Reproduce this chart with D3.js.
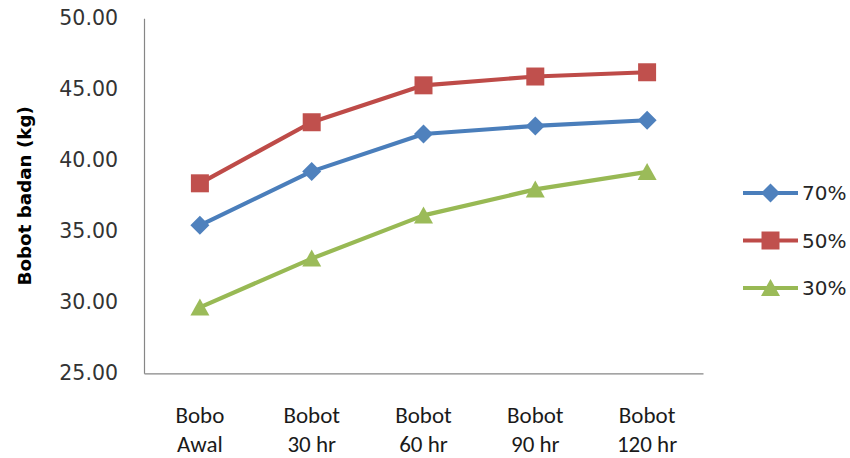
<!DOCTYPE html>
<html>
<head>
<meta charset="utf-8">
<script src="https://cdn.jsdelivr.net/npm/d3@7/dist/d3.min.js"></script>
<style>
  html, body { margin: 0; padding: 0; background: #fff; }
  svg { display: block; }
</style>
</head>
<body>
<svg id="chart" width="850" height="458"></svg>
<script>
// ---- data ----
const categories = ["Bobo Awal", "Bobot 30 hr", "Bobot 60 hr", "Bobot 90 hr", "Bobot 120 hr"];
const categoryLines = [["Bobo", "Awal"], ["Bobot", "30 hr"], ["Bobot", "60 hr"], ["Bobot", "90 hr"], ["Bobot", "120 hr"]];
const seriesNames = ["70%", "50%", "30%"];
const values70 = [35.42, 39.22, 41.85, 42.42, 42.82];
const values50 = [38.38, 42.68, 45.28, 45.9, 46.2];
const values30 = [29.64, 33.08, 36.12, 37.95, 39.18];
const yTicks = [25, 30, 35, 40, 45, 50];
const yTitle = "Bobot badan (kg)";

const series = [
  { name: seriesNames[0], values: values70, line: "#4A7EBB", fill: "#4F81BD", shape: "diamond" },
  { name: seriesNames[1], values: values50, line: "#BE4B48", fill: "#C0504D", shape: "square" },
  { name: seriesNames[2], values: values30, line: "#98B954", fill: "#9BBB59", shape: "triangle" }
];

// ---- layout ----
const plot = { left: 144, right: 703, top: 18.3, bottom: 373.3 };
const svg = d3.select("#chart");

const x = d3.scaleBand().domain(categories).range([plot.left, plot.right]);
const y = d3.scaleLinear().domain([25, 50]).range([plot.bottom, plot.top]);
const cx = c => x(c) + x.bandwidth() / 2;

// axes
const yAxis = d3.axisLeft(y).tickValues(yTicks).tickFormat(d3.format(".2f")).tickSize(0).tickPadding(26);
const gy = svg.append("g").attr("transform", `translate(${plot.left},0)`).call(yAxis);
gy.select(".domain").attr("stroke", "#868686").attr("stroke-width", 1.2);
gy.selectAll("text")
  .attr("font-family", "'DejaVu Sans', Verdana, sans-serif")
  .attr("font-size", 20.5)
  .attr("fill", "#333333");

const xAxis = d3.axisBottom(x).tickSize(0).tickFormat(() => "");
const gx = svg.append("g").attr("transform", `translate(0,${plot.bottom})`).call(xAxis);
gx.select(".domain").attr("stroke", "#868686").attr("stroke-width", 1.2);

// x labels (two lines)
const xl = svg.append("g")
  .attr("font-family", "Carlito, 'Liberation Sans Narrow', 'Liberation Sans', sans-serif")
  .attr("font-size", 23)
  .attr("fill", "#1a1a1a")
  .attr("text-anchor", "middle");
categories.forEach((c, i) => {
  const t = xl.append("text").attr("x", cx(c)).attr("y", 0);
  categoryLines[i].forEach((ln, j) => {
    t.append("tspan").attr("x", cx(c)).attr("y", 423 + j * 28.5).text(ln);
  });
});

// y title
svg.append("text")
  .attr("transform", `translate(31,${(plot.top + plot.bottom) / 2}) rotate(-90)`)
  .attr("text-anchor", "middle")
  .attr("font-family", "'DejaVu Sans', Verdana, sans-serif")
  .attr("font-weight", "bold")
  .attr("font-size", 18.3)
  .attr("fill", "#000")
  .text(yTitle);

// marker symbol
function symbolPath(shape) {
  if (shape === "diamond") return "M0,-9.5L9.5,0L0,9.5L-9.5,0Z";
  if (shape === "square") return "M-9,-9H9V9H-9Z";
  return "M0,-9L9.5,8L-9.5,8Z";
}

// lines and markers
const lineGen = d3.line().x((d, i) => cx(categories[i])).y(d => y(d));
series.forEach(s => {
  svg.append("path")
    .datum(s.values)
    .attr("d", lineGen)
    .attr("fill", "none")
    .attr("stroke", s.line)
    .attr("stroke-width", 4.2)
    .attr("stroke-linejoin", "round");
  svg.append("g").selectAll("path")
    .data(s.values)
    .join("path")
    .attr("transform", (d, i) => `translate(${cx(categories[i])},${y(d)})`)
    .attr("d", symbolPath(s.shape))
    .attr("fill", s.fill);
});

// legend
const legend = svg.append("g");
series.forEach((s, i) => {
  const ly = 193 + i * 47.5;
  legend.append("line")
    .attr("x1", 743).attr("x2", 798).attr("y1", ly).attr("y2", ly)
    .attr("stroke", s.line).attr("stroke-width", 4.2);
  legend.append("path")
    .attr("transform", `translate(770.5,${ly})`)
    .attr("d", symbolPath(s.shape))
    .attr("fill", s.fill);
  legend.append("text")
    .attr("x", 802).attr("y", ly)
    .attr("dy", "0.36em")
    .attr("font-family", "'DejaVu Sans', Verdana, sans-serif")
    .attr("font-size", 20)
    .attr("fill", "#262626")
    .text(s.name);
});
</script>
</body>
</html>
